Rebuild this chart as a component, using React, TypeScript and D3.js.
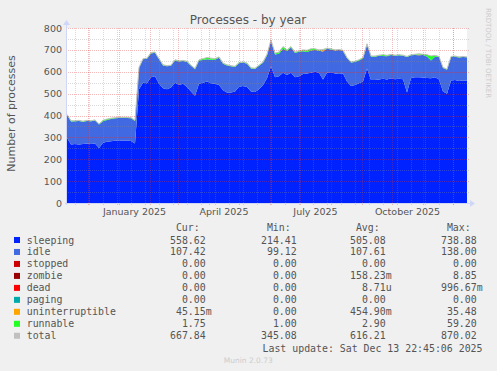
import React from "react";
import * as d3 from "d3";

// daily samples every 4 days, starting 2024-11-10
const START = Date.UTC(2024, 10, 10);
const END = Date.UTC(2025, 11, 15);
const STEP_DAYS = 4;

const sleeping = [
  298, 268, 270, 268, 270, 272, 270, 272, 252, 276, 280, 282, 285, 286, 286, 286, 284, 272,
  520, 550, 548, 575, 580, 545, 525, 520, 528, 550, 540, 545, 530, 510, 490, 545, 550, 555,
  548, 545, 540, 515, 505, 505, 510, 532, 535, 530, 510, 508, 520, 540, 570, 625, 575, 580,
  595, 585, 595, 575, 580, 590, 592, 595, 600, 596, 565, 595, 598, 592, 590, 592, 555, 535,
  540, 548, 555, 615, 562, 562, 565, 568, 565, 570, 566, 568, 566, 505, 572, 575, 575, 574,
  572, 570, 575, 565, 510, 500, 560, 562, 558, 560, 559,
];
const idle = [
  105, 105, 104, 107, 102, 103, 104, 105, 107, 98, 99, 102, 102, 103, 104, 103, 103, 103,
  97, 107, 111, 109, 107, 112, 104, 105, 99, 101, 107, 104, 115, 117, 122, 106, 104, 102,
  107, 110, 124, 122, 124, 120, 112, 107, 107, 107, 105, 105, 107, 101, 105, 117, 104, 102,
  110, 110, 116, 111, 112, 104, 98, 102, 99, 100, 128, 110, 104, 105, 109, 103, 107, 107,
  105, 104, 106, 110, 107, 107, 108, 104, 106, 107, 107, 107, 107, 162, 103, 102, 100, 103,
  98, 82, 94, 102, 107, 109, 107, 107, 107, 108, 107,
];
const uninterruptible = [
  0, 0, 0, 0, 0, 0, 0, 0, 0, 0, 0, 0, 0, 0, 0, 0, 0, 0,
  0, 0, 0, 0, 0, 0, 0, 0, 0, 0, 0, 0, 0, 0, 0, 0, 0, 0,
  0, 0, 0, 0, 0, 0, 0, 0, 0, 0, 0, 0, 0, 0, 0, 0, 0, 0,
  0, 0, 0, 0, 0, 0, 0, 0, 0, 0, 5, 0, 0, 0, 0, 0, 0, 0,
  0, 0, 0, 0, 0, 0, 0, 0, 0, 0, 0, 0, 0, 0, 0, 0, 4, 0,
  0, 0, 0, 0, 0, 0, 0, 0, 0, 0, 0,
];
const runnable = [
  2, 3, 2, 3, 2, 3, 2, 3, 3, 4, 5, 4, 3, 3, 2, 3, 3, 3,
  3, 3, 3, 4, 3, 3, 3, 3, 3, 4, 3, 3, 3, 3, 3, 4, 6, 8,
  7, 5, 4, 3, 3, 3, 3, 3, 3, 3, 3, 3, 3, 4, 5, 3, 6, 8,
  10, 5, 4, 4, 3, 6, 8, 8, 6, 4, 4, 3, 3, 3, 3, 3, 3, 3,
  3, 3, 4, 3, 3, 3, 3, 6, 4, 3, 3, 3, 3, 3, 3, 3, 3, 3,
  8, 20, 6, 3, 3, 3, 3, 3, 3, 2, 2,
];

const legendNames = ["sleeping", "idle", "stopped", "zombie", "dead", "paging", "uninterruptible", "runnable", "total"];
const legendColors = ["#0022ff", "#4169e1", "#cc0000", "#990000", "#ff0000", "#00aaaa", "#ffa500", "#22ff22", "#c0c0c0"];
const curValues = ["558.62", "107.42", "0.00", "0.00", "0.00", "0.00", "45.15m", "1.75", "667.84"];
const minValues = ["214.41", "99.12", "0.00", "0.00", "0.00", "0.00", "0.00", "1.00", "345.08"];
const avgValues = ["505.08", "107.61", "0.00", "158.23m", "8.71u", "0.00", "454.90m", "2.90", "616.21"];
const maxValues = ["738.88", "138.00", "0.00", "8.85", "996.67m", "0.00", "35.48", "59.20", "870.02"];

const yTicks = [0, 100, 200, 300, 400, 500, 600, 700, 800];
const yMinorTicks = [50, 150, 250, 350, 450, 550, 650, 750];

const W = 497;
const H = 371;
const X0 = 67;
const X1 = 467;
const Y0 = 203;
const Y1 = 28;

const SANS = "'DejaVu Sans', sans-serif";
const MONO = "'DejaVu Sans Mono', monospace";
const FONT_COLOR = "#555";
const AXIS = "#cfd6f8";
const GRID = "rgba(140,140,140,0.33)";
const MGRID = "rgba(220,50,50,0.33)";

export default function App() {
  const dates = sleeping.map((_, i) => new Date(START + i * STEP_DAYS * 864e5));
  const rows = dates.map((d, i) => ({
    date: d,
    sleeping: sleeping[i],
    idle: idle[i],
    uninterruptible: uninterruptible[i],
    runnable: runnable[i],
  }));
  const keys = ["sleeping", "idle", "uninterruptible", "runnable"];
  const colors: Record<string, string> = {
    sleeping: "#0022ff",
    idle: "#4169e1",
    uninterruptible: "#ffa500",
    runnable: "#22ff22",
  };

  const x = d3.scaleUtc().domain([new Date(START), new Date(END)]).range([X0, X1]);
  const y = d3.scaleLinear().domain([0, 800]).range([Y0, Y1]);

  const series = d3.stack<any>().keys(keys)(rows);
  const area = d3
    .area<any>()
    .x((d) => x(d.data.date))
    .y0((d) => y(d[0]))
    .y1((d) => y(d[1]));
  const totalLine = d3
    .line<any>()
    .x((d) => x(d.data.date))
    .y((d) => y(d[1]));

  const months = d3.utcMonth.range(new Date(START), new Date(END));
  const minor = d3.utcMonday.range(new Date(Date.UTC(2024, 10, 17)), new Date(END), 2);
  const labelMonths = months.filter((m) => m.getUTCMonth() % 3 === 0);
  const fmt = d3.utcFormat("%B %Y");

  const rowY = (i: number) => 243.5 + i * 11.97;
  const colRight = [205.7, 296.7, 385.7, 476.7];
  const columns = [curValues, minValues, avgValues, maxValues];
  const headers = ["Cur:", "Min:", "Avg:", "Max:"];

  const splitVal = (s: string) => {
    const m = s.match(/^([\d.]+)([a-zA-Z]?)$/);
    return m ? [m[1], m[2]] : [s, ""];
  };

  // dotted grid lines drawn as 1px rects filled with a 1-on/1-off pattern
  const hLine = (v: number, pat: string, k: string) => (
    <rect key={k} x={X0 - 2} y={Math.round(y(v))} width={X1 - X0 + 4} height={1} fill={`url(#${pat})`} />
  );
  const vLine = (d: Date, pat: string, k: string, ext: number) => (
    <rect key={k} x={Math.round(x(d))} y={Y1} width={1} height={Y0 - Y1 + ext} fill={`url(#${pat})`} />
  );

  return (
    <div style={{ position: "absolute", left: 0, top: 0 }}>
      <svg width={W} height={H} style={{ display: "block" }}>
        <defs>
          <pattern id="hg" patternUnits="userSpaceOnUse" width={2} height={1}>
            <rect width={1} height={1} fill={GRID} />
          </pattern>
          <pattern id="vg" patternUnits="userSpaceOnUse" width={1} height={2}>
            <rect width={1} height={1} fill={GRID} />
          </pattern>
          <pattern id="hm" patternUnits="userSpaceOnUse" width={2} height={1}>
            <rect width={1} height={1} fill={MGRID} />
          </pattern>
          <pattern id="vm" patternUnits="userSpaceOnUse" width={1} height={2}>
            <rect width={1} height={1} fill={MGRID} />
          </pattern>
        </defs>
        <rect width={W} height={H} fill="#f0f0f0" />
        <rect x={X0} y={Y1} width={X1 - X0} height={Y0 - Y1} fill="#ffffff" />

        {series.map((s) => (
          <path key={s.key} d={area(s) || ""} fill={colors[s.key]} />
        ))}
        <path d={totalLine(series[series.length - 1]) || ""} fill="none" stroke="#c0c0c0" strokeWidth={1} />

        {/* minor grid */}
        <g>
          {yMinorTicks.map((t) => hLine(t, "hg", "ym" + t))}
          {minor.map((d) => vLine(d, "vg", "xm" + +d, 2))}
        </g>
        {/* major grid */}
        <g>
          {yTicks.map((t) => hLine(t, "hm", "y" + t))}
          {months.map((d) => vLine(d, "vm", "x" + +d, 3))}
        </g>

        {/* axes */}
        <rect x={X0 - 2} y={Y0} width={X1 - X0 + 6} height={1} fill={AXIS} />
        <path d={`M${X1 + 3},${Y0 - 3} L${X1 + 8},${Y0 + 0.5} L${X1 + 3},${Y0 + 4} Z`} fill={AXIS} />
        <rect x={X0 - 1} y={Y1 - 4} width={1} height={Y0 - Y1 + 6} fill={AXIS} />
        <path d={`M${X0 - 4},${Y1 - 3} L${X0 - 0.5},${Y1 - 8} L${X0 + 3},${Y1 - 3} Z`} fill={AXIS} />

        {/* tick labels */}
        {yTicks.map((t) => (
          <text key={"yl" + t} x={62} y={y(t) + 3.5} textAnchor="end" fontFamily={SANS} fontSize={9.5} fill={FONT_COLOR}>
            {t}
          </text>
        ))}
        {labelMonths.map((m) => {
          const next = d3.utcMonth.offset(m, 1);
          return (
            <text key={"xl" + +m} x={(x(m) + x(next)) / 2} y={215} textAnchor="middle" fontFamily={SANS} fontSize={9.5} fill={FONT_COLOR}>
              {fmt(m)}
            </text>
          );
        })}

        {/* titles */}
        <text x={248} y={24} textAnchor="middle" fontFamily={SANS} fontSize={12} fill={FONT_COLOR}>
          Processes - by year
        </text>
        <text transform={`translate(15,113.5) rotate(-90)`} textAnchor="middle" fontFamily={SANS} fontSize={11} fill={FONT_COLOR}>
          Number of processes
        </text>
        <text transform={`translate(485.5,53) rotate(90)`} textAnchor="middle" fontFamily={SANS} fontSize={7} fill="#cccccc">
          RRDTOOL / TOBI OETIKER
        </text>

        {/* legend */}
        {headers.map((h, j) => (
          <text key={h} x={colRight[j] - 6} y={231} textAnchor="end" fontFamily={MONO} fontSize={9.9} fill={FONT_COLOR}>
            {h}
          </text>
        ))}
        {legendNames.map((name, i) => (
          <g key={name}>
            <rect x={14} y={rowY(i) - 6.5} width={6} height={6} fill={legendColors[i]} />
            <text x={26.7} y={rowY(i)} fontFamily={MONO} fontSize={9.9} fill={FONT_COLOR}>
              {name}
            </text>
            {columns.map((col, j) => {
              const [num, suf] = splitVal(col[i]);
              return (
                <g key={j}>
                  <text x={colRight[j]} y={rowY(i)} textAnchor="end" fontFamily={MONO} fontSize={9.9} fill={FONT_COLOR}>
                    {num}
                  </text>
                  {suf && (
                    <text x={colRight[j]} y={rowY(i)} fontFamily={MONO} fontSize={9.9} fill={FONT_COLOR}>
                      {suf}
                    </text>
                  )}
                </g>
              );
            })}
          </g>
        ))}
        <text x={482.5} y={351.5} textAnchor="end" fontFamily={MONO} fontSize={9.9} fill={FONT_COLOR}>
          Last update: Sat Dec 13 22:45:06 2025
        </text>
        <text x={248.3} y={362.5} textAnchor="middle" fontFamily={SANS} fontSize={7.5} fill="#cccccc">
          Munin 2.0.73
        </text>
      </svg>
    </div>
  );
}
